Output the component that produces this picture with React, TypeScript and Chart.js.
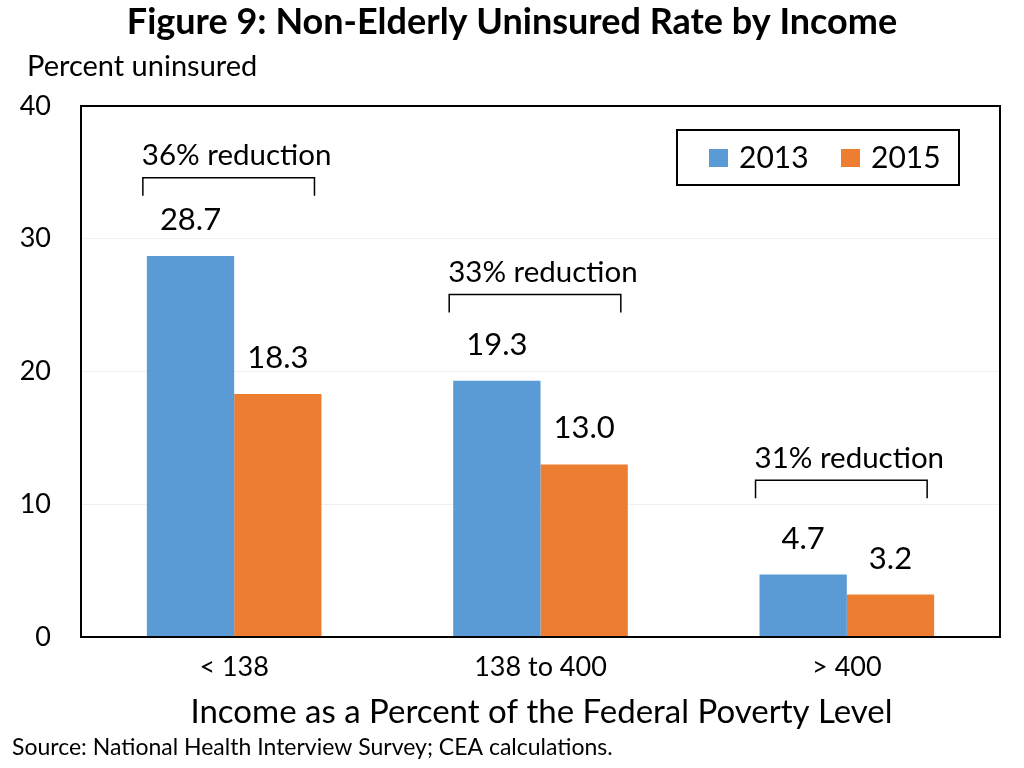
import { useEffect, useRef } from "react";
import { Chart, registerables } from "chart.js";

Chart.register(...registerables);

const categories = ["< 138", "138 to 400", "> 400"];
const seriesNames = ["2013", "2015"];
const values2013 = [28.7, 19.3, 4.7];
const values2015 = [18.3, 13.0, 3.2];
const reductionLabels = ["36% reduction", "33% reduction", "31% reduction"];
const bracketLevels = [34.6, 25.8, 11.8];
const yTickValues = [0, 10, 20, 30, 40];

const titleText = "Figure 9: Non-Elderly Uninsured Rate by Income";
const yAxisText = "Percent uninsured";
const xAxisText = "Income as a Percent of the Federal Poverty Level";
const sourceText = "Source: National Health Interview Survey; CEA calculations.";

const BLUE = "#5B9BD5";
const ORANGE = "#ED7D31";
const FONT = "Lato, 'Open Sans', sans-serif";

const annotatePlugin = {
  id: "annotate",
  afterDatasetsDraw(chart: any) {
    const ctx = chart.ctx;
    const area = chart.chartArea;
    const yScale = chart.scales.y;
    ctx.save();

    // frame
    ctx.strokeStyle = "#000";
    ctx.lineWidth = 2;
    ctx.strokeRect(area.left, area.top, area.right - area.left, area.bottom - area.top);

    // value labels
    ctx.fillStyle = "#000";
    ctx.font = `31px ${FONT}`;
    ctx.textAlign = "center";
    ctx.textBaseline = "middle";
    chart.data.datasets.forEach((ds: any, di: number) => {
      const meta = chart.getDatasetMeta(di);
      meta.data.forEach((bar: any, i: number) => {
        ctx.fillText(Number(ds.data[i]).toFixed(1), bar.x, bar.y - 36);
      });
    });

    // brackets
    const m0 = chart.getDatasetMeta(0);
    const m1 = chart.getDatasetMeta(1);
    ctx.font = `29.5px ${FONT}`;
    ctx.textAlign = "left";
    reductionLabels.forEach((lab, i) => {
      const b0 = m0.data[i];
      const b1 = m1.data[i];
      const w = b0.width;
      const x0 = b0.x - w / 2 - 4;
      const x1 = b1.x + w / 2 - 7;
      const yt = yScale.getPixelForValue(bracketLevels[i]);
      ctx.lineWidth = 1.5;
      ctx.beginPath();
      ctx.moveTo(x0, yt + 18);
      ctx.lineTo(x0, yt);
      ctx.lineTo(x1, yt);
      ctx.lineTo(x1, yt + 18);
      ctx.stroke();
      ctx.fillText(lab, x0 - 1, yt - 22);
    });

    // legend
    const lx = area.right - 41 - 282;
    const ly = area.top + 24;
    ctx.lineWidth = 2;
    ctx.fillStyle = "#fff";
    ctx.fillRect(lx, ly, 282, 55);
    ctx.strokeRect(lx, ly, 282, 55);
    ctx.font = `30px ${FONT}`;
    ctx.textAlign = "left";
    const itemX = [lx + 32, lx + 164];
    chart.data.datasets.forEach((ds: any, di: number) => {
      ctx.fillStyle = ds.backgroundColor;
      ctx.fillRect(itemX[di], ly + 19, 19, 18);
      ctx.fillStyle = "#000";
      ctx.fillText(ds.label, itemX[di] + 30, ly + 28);
    });

    ctx.restore();
  },
  afterDraw(chart: any) {
    const ctx = chart.ctx;
    const area = chart.chartArea;
    ctx.save();
    ctx.fillStyle = "#000";
    ctx.textBaseline = "middle";
    ctx.textAlign = "center";
    ctx.font = `bold 36px ${FONT}`;
    ctx.fillText(titleText, 512, 22);
    ctx.textAlign = "left";
    ctx.font = `29px ${FONT}`;
    ctx.fillText(yAxisText, 27, 67);
    ctx.textAlign = "center";
    ctx.font = `33px ${FONT}`;
    ctx.fillText(xAxisText, (area.left + area.right) / 2 + 1, 712);
    ctx.textAlign = "left";
    ctx.font = `23px ${FONT}`;
    ctx.fillText(sourceText, 12, 748);
    ctx.restore();
  },
};

export default function App() {
  const ref = useRef<HTMLCanvasElement | null>(null);
  useEffect(() => {
    if (!ref.current) return;
    const chart = new Chart(ref.current, {
      type: "bar",
      data: {
        labels: categories,
        datasets: [
          { label: seriesNames[0], data: values2013, backgroundColor: BLUE, categoryPercentage: 0.57, barPercentage: 1 },
          { label: seriesNames[1], data: values2015, backgroundColor: ORANGE, categoryPercentage: 0.57, barPercentage: 1 },
        ],
      },
      options: {
        animation: false,
        responsive: true,
        maintainAspectRatio: false,
        layout: { padding: { top: 106, left: 20, right: 24, bottom: 0 } },
        plugins: { legend: { display: false }, tooltip: { enabled: false }, title: { display: false } },
        scales: {
          x: {
            grid: { display: false, drawTicks: false },
            border: { display: false },
            ticks: { color: "#000", font: { family: FONT, size: 27 }, padding: 14 },
            afterFit: (s: any) => { s.height = 131; },
          },
          y: {
            min: 0,
            max: 40,
            afterBuildTicks: (s: any) => { s.ticks = yTickValues.map((v) => ({ value: v })); },
            grid: { color: "#efefef", drawTicks: false },
            border: { display: false },
            ticks: { color: "#000", font: { family: FONT, size: 27 }, padding: 30 },
            afterFit: (s: any) => { s.width = 61; },
          },
        },
      },
      plugins: [annotatePlugin],
    });
    return () => chart.destroy();
  }, []);
  return (
    <div style={{ position: "absolute", left: 0, top: 0, width: 1024, height: 768, background: "#fff" }}>
      <canvas ref={ref} />
    </div>
  );
}
